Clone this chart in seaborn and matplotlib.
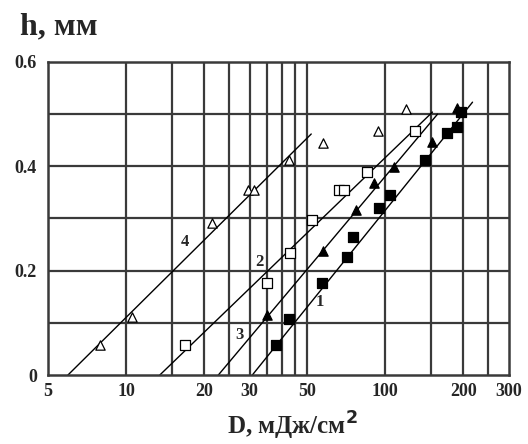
import numpy as np
import pandas as pd
import matplotlib
matplotlib.use('Agg')
import matplotlib.pyplot as plt
import seaborn as sns

# ── Data ────────────────────────────────────────────────────
# series 1: filled squares
x1 = [38, 42.6, 57.1, 71.4, 75.3, 94.8, 104.6, 142.8, 173.6, 189.7, 196.6]
y1 = [0.058, 0.107, 0.176, 0.226, 0.265, 0.32, 0.345, 0.412, 0.464, 0.475, 0.504]
# series 2: open squares
x2 = [16.9, 35, 43, 52.3, 66.5, 69, 85.3, 130.6]
y2 = [0.058, 0.176, 0.234, 0.297, 0.355, 0.355, 0.389, 0.468]
# series 3: filled triangles
x3 = [35, 57.6, 77.3, 90.7, 108.4, 152, 189.7]
y3 = [0.115, 0.238, 0.316, 0.368, 0.399, 0.447, 0.512]
# series 4: open triangles
x4 = [7.9, 10.5, 21.5, 29.6, 31.2, 42.6, 57.6, 94, 120.6]
y4 = [0.058, 0.111, 0.291, 0.355, 0.355, 0.412, 0.445, 0.468, 0.51]

# fitted straight lines (end points)
line1_x = [30.7, 217]
line1_y = [0, 0.523]
line2_x = [13.5, 152]
line2_y = [0, 0.504]
line3_x = [22.7, 159]
line3_y = [0, 0.50]
line4_x = [5.97, 51.8]
line4_y = [0, 0.462]

# curve labels
label_text = ['1', '2', '3', '4']
label_x = [56.1, 32.6, 27.5, 16.9]
label_y = [0.14, 0.217, 0.077, 0.255]

xtick_vals = [5, 10, 20, 30, 50, 100, 200, 300]
xgrid_vals = [10, 15, 20, 25, 30, 35, 40, 45, 50, 100, 150, 200, 250]
ytick_vals = [0, 0.2, 0.4, 0.6]
ygrid_vals = [0.1, 0.2, 0.3, 0.4, 0.5]

# ── Plot ────────────────────────────────────────────────────
sns.set_style('white')
plt.rcParams['font.family'] = ['Liberation Serif', 'DejaVu Serif']

fig = plt.figure(figsize=(5.28, 4.44), dpi=100)
ax = fig.add_axes([48 / 528, 1 - 375 / 444, 461 / 528, 313 / 444])

for gx in xgrid_vals:
    ax.axvline(gx, color='#3a3a3a', lw=1.6, zorder=0)
for gy in ygrid_vals:
    ax.axhline(gy, color='#3a3a3a', lw=1.6, zorder=0)

for lx, ly in [(line1_x, line1_y), (line2_x, line2_y),
               (line3_x, line3_y), (line4_x, line4_y)]:
    sns.lineplot(x=lx, y=ly, ax=ax, color='black', lw=1.0, zorder=2)

series = [
    (x1, y1, 's', 'black'),
    (x2, y2, 's', 'white'),
    (x3, y3, '^', 'black'),
    (x4, y4, '^', 'white'),
]
for xs, ys, mk, fc in series:
    df = pd.DataFrame({'D': xs, 'h': ys})
    sns.scatterplot(data=df, x='D', y='h', ax=ax, marker=mk, s=45,
                    facecolor=fc, edgecolor='black', linewidth=0.9, zorder=3)

for t, lx, ly in zip(label_text, label_x, label_y):
    ax.text(lx, ly, t, fontsize=12, fontweight='bold', ha='center',
            va='center', zorder=4)

ax.set_xscale('log')
ax.set_xlim(5, 300)
ax.set_ylim(0, 0.6)
ax.xaxis.set_minor_locator(matplotlib.ticker.NullLocator())
ax.set_xticks(xtick_vals)
ax.set_xticklabels([str(v) for v in xtick_vals])
ax.set_yticks(ytick_vals)
ax.set_yticklabels(['0', '0.2', '0.4', '0.6'])
ax.tick_params(length=0, labelsize=13, pad=6)
ax.tick_params(axis='y', pad=8)
for lab in ax.get_xticklabels() + ax.get_yticklabels():
    lab.set_fontweight('bold')
ax.set_xlabel('')
ax.set_ylabel('')
for sp in ax.spines.values():
    sp.set_color('#3a3a3a')
    sp.set_linewidth(1.8)

fig.text(20 / 528, 1 - 27 / 444, 'h, мм', fontsize=23, fontweight='bold',
         ha='left', va='center')
fig.text(292 / 528, 1 - 435 / 444, 'D, мДж/см$^\\mathbf{2}$', fontsize=18,
         fontweight='bold', ha='center', va='baseline')

plt.savefig('out.png', dpi=100)
